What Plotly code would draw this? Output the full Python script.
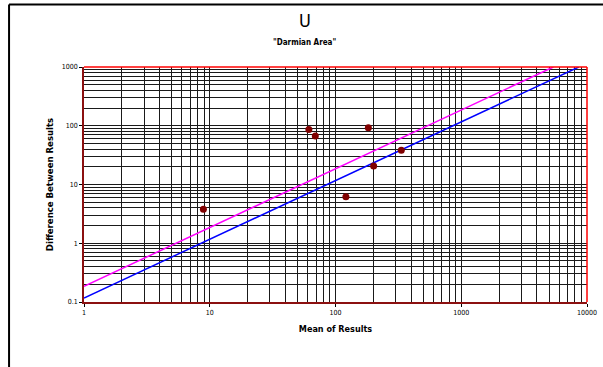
import plotly.graph_objects as go

# Data
mean_results = [8.9, 61.4, 69.1, 121, 182.5, 201, 333.6]
diff_results = [3.8, 86.7, 66.7, 6.2, 92.5, 20.6, 38.4]

blue_x = [1, 8600]
blue_y = [0.117, 1000]
magenta_x = [1, 5400]
magenta_y = [0.185, 1000]

x_ticks = [1, 10, 100, 1000, 10000]
x_tick_text = ["1", "10", "100", "1000", "10000"]
y_ticks = [0.1, 1, 10, 100, 1000]
y_tick_text = ["0.1", "1", "10", "100", "1000"]

FONT = "Liberation Sans Narrow, DejaVu Sans Condensed, Arial Narrow, sans-serif"

fig = go.Figure()
fig.add_trace(go.Scatter(x=blue_x, y=blue_y, mode="lines",
                         line=dict(color="#0000FF", width=1.5), hoverinfo="skip"))
fig.add_trace(go.Scatter(x=magenta_x, y=magenta_y, mode="lines",
                         line=dict(color="#FF00FF", width=1.5), hoverinfo="skip"))
fig.add_trace(go.Scatter(x=mean_results, y=diff_results, mode="markers",
                         marker=dict(color="#800000", size=7, symbol="circle")))

grid_col = "#1a1a1a"
fig.update_xaxes(type="log", range=[0, 4], tickvals=x_ticks, ticktext=x_tick_text,
                 automargin=False,
                 showgrid=True, gridcolor=grid_col, gridwidth=1,
                 minor=dict(dtick="D1", showgrid=True, gridcolor=grid_col, gridwidth=1, ticks=""),
                 ticks="outside", ticklen=3, tickcolor="#000",
                 showline=True, linecolor="#8B1010", linewidth=1.5,
                 zeroline=False,
                 tickfont=dict(family=FONT, size=7, color="#000"),
                 title=dict(text="<b>Mean of Results</b>", font=dict(family=FONT, size=9, color="#000"),
                            standoff=10))
fig.update_yaxes(type="log", range=[-1, 3], tickvals=y_ticks, ticktext=y_tick_text,
                 automargin=False,
                 showgrid=True, gridcolor=grid_col, gridwidth=1,
                 minor=dict(dtick="D1", showgrid=True, gridcolor=grid_col, gridwidth=1, ticks=""),
                 ticks="outside", ticklen=3, tickcolor="#000",
                 showline=True, linecolor="#8B1010", linewidth=1.5,
                 zeroline=False,
                 tickfont=dict(family=FONT, size=7, color="#000"),
                 title=dict(text="<b>Difference Between Results</b>",
                            font=dict(family=FONT, size=9.5, color="#000"), standoff=6))

# plot area: x 84..587, y 67..302 in a 603x367 figure
shapes = [
    # red plot-area border (top and right)
    dict(type="line", xref="paper", yref="paper", x0=0, x1=1, y0=1, y1=1,
         line=dict(color="#FF0000", width=1.5), layer="above"),
    dict(type="line", xref="paper", yref="paper", x0=1, x1=1, y0=0, y1=1,
         line=dict(color="#FF0000", width=1.5), layer="above"),
    # outer chart frame (top and left edges visible in the window)
    dict(type="line", xref="paper", yref="paper", x0=-0.149, x1=1.2, y0=1.266, y1=1.266,
         line=dict(color="#000", width=2), layer="below"),
    dict(type="line", xref="paper", yref="paper", x0=-0.149, x1=-0.149, y0=-0.5, y1=1.266,
         line=dict(color="#000", width=2), layer="below"),
]

annotations = [
    dict(text="U", xref="paper", yref="paper", x=0.439, y=1.196,
         xanchor="center", yanchor="middle", showarrow=False,
         font=dict(family=FONT, size=18, color="#000")),
    dict(text="<b>\"Darmian Area\"</b>", xref="paper", yref="paper", x=0.439, y=1.103,
         xanchor="center", yanchor="middle", showarrow=False,
         font=dict(family=FONT, size=8, color="#000")),
]

fig.update_layout(width=603, height=367,
                  margin=dict(l=84, r=16, t=67, b=65),
                  paper_bgcolor="#FFFFFF", plot_bgcolor="#FFFFFF",
                  showlegend=False, shapes=shapes, annotations=annotations)

fig.write_html("out.html",
               config={"displayModeBar": False},
               post_script="document.body.style.margin='0';document.body.style.overflow='hidden';")
